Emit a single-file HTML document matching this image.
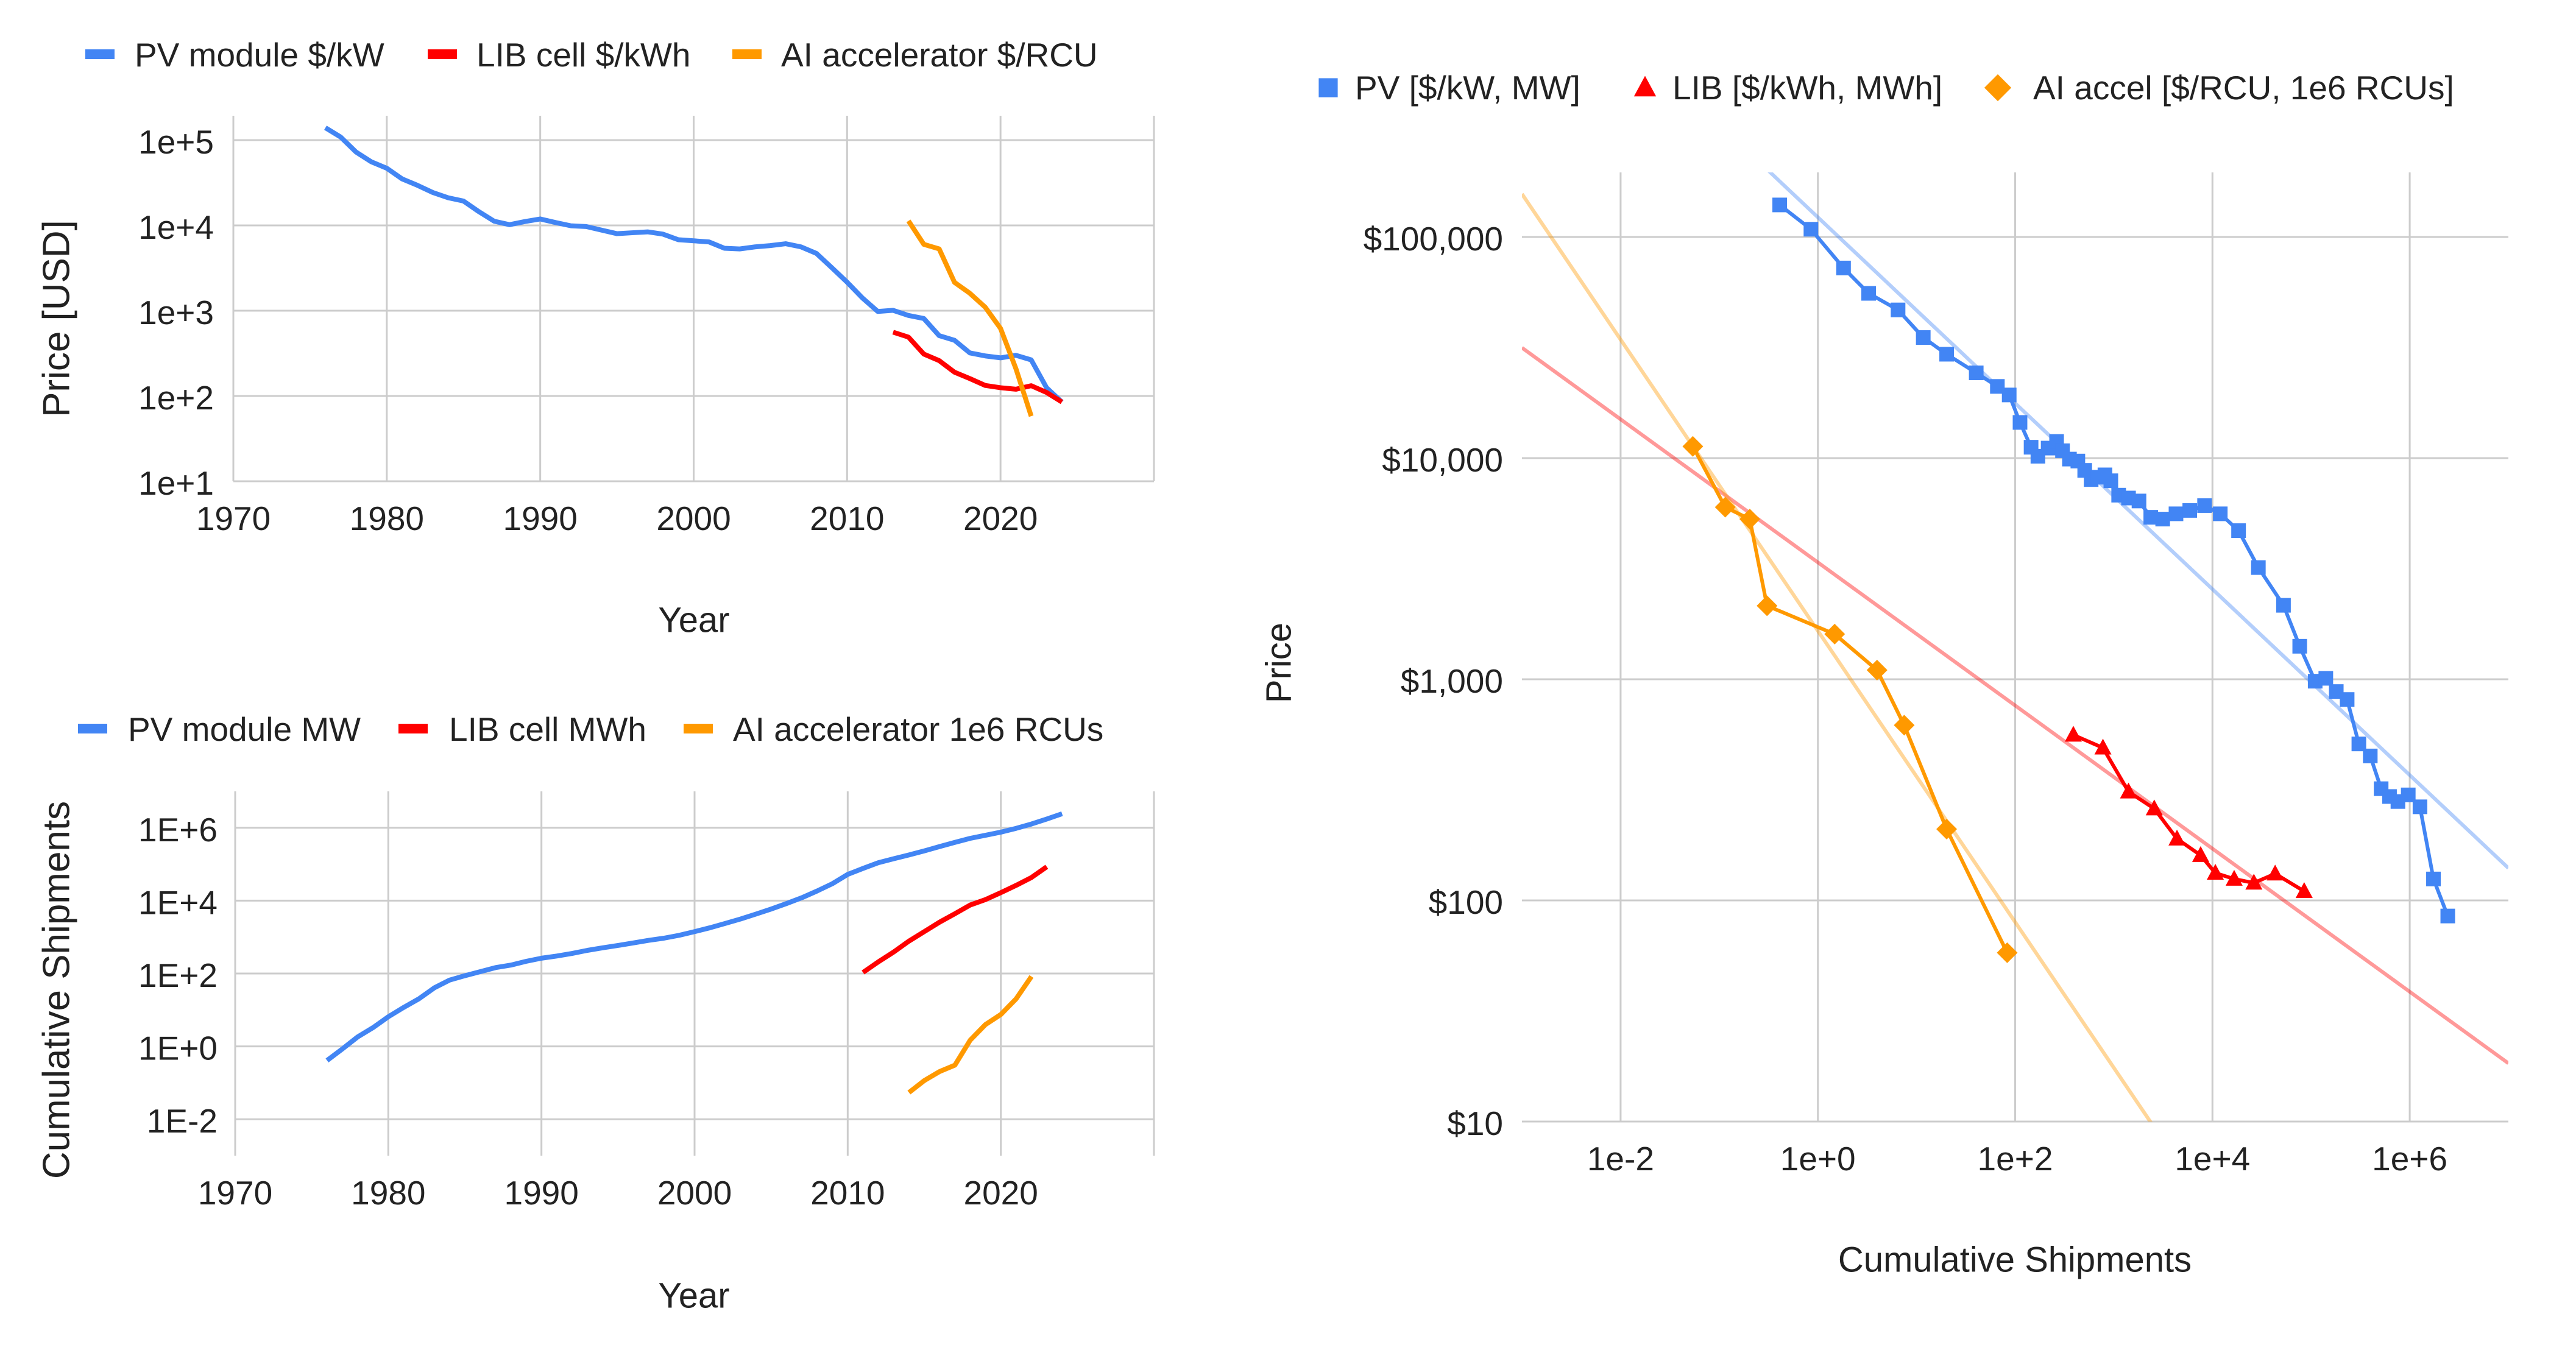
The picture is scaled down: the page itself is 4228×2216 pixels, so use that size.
<!DOCTYPE html>
<html><head><meta charset="utf-8"><style>
html,body{margin:0;padding:0;background:#fff;width:4228px;height:2216px;overflow:hidden;}
svg{display:block;font-family:"Liberation Sans",Arial,sans-serif;}
</style></head><body>
<svg id="s" width="4228" height="2216" viewBox="0 0 4228 2216" xmlns="http://www.w3.org/2000/svg"></svg>
<script>
// ---- data ----
const pvYears = [1976,1977,1978,1979,1980,1981,1982,1983,1984,1985,1986,1987,1988,1989,1990,1991,1992,1993,1994,1995,1996,1997,1998,1999,2000,2001,2002,2003,2004,2005,2006,2007,2008,2009,2010,2011,2012,2013,2014,2015,2016,2017,2018,2019,2020,2021,2022,2023,2024];
const pvPrice = [139600,108400,72400,55600,46800,35100,29500,24300,21100,19300,14500,11200,10200,11100,11900,10800,9900,9700,8800,8000,8200,8400,7900,6800,6600,6400,5400,5300,5600,5800,6100,5600,4700,3200,2160,1410,980,1010,880,810,510,450,320,295,280,300,265,125,85];
const pvCum = [0.41,0.85,1.82,3.27,6.5,11.7,20.2,40.3,66,87,112,145,170,216,263,302,355,432,507,589,692,813,933,1120,1410,1800,2370,3130,4270,5890,8320,12000,18400,29200,52500,76700,110000,141000,180000,232000,305000,398000,513000,624000,759000,966000,1270000,1740000,2430000];
const libPriceYears = [2013,2014,2015,2016,2017,2018,2019,2020,2021,2022,2023,2024];
const libPrice = [560,490,310,260,190,160,133,125,120,132,110,85];
const libCumYears = [2011,2012,2013,2014,2015,2016,2017,2018,2019,2020,2021,2022,2023];
const libCum = [107,209,389,776,1410,2570,4370,7590,10700,16600,26300,43200,85100];
const aiYears = [2014,2015,2016,2017,2018,2019,2020,2021,2022];
const aiPrice = [11300,6000,5300,2150,1600,1100,620,210,58];
const aiCum = [0.054,0.115,0.204,0.305,1.48,3.98,7.5,20.2,83];
const yearTicks = [1970,1980,1990,2000,2010,2020,2030];
const yearTickLabels = ["1970","1980","1990","2000","2010","2020",""];
const priceTickExp = [1,2,3,4,5];
const priceTickLabels = ["1e+1","1e+2","1e+3","1e+4","1e+5"];
const shipTickExp = [-2,0,2,4,6];
const shipTickLabels = ["1E-2","1E+0","1E+2","1E+4","1E+6"];
const rxTickExp = [-2,0,2,4,6];
const rxTickLabels = ["1e-2","1e+0","1e+2","1e+4","1e+6"];
const ryTickExp = [1,2,3,4,5];
const ryTickLabels = ["$10","$100","$1,000","$10,000","$100,000"];

const BLUE="#4285F4", RED="#FF0000", ORANGE="#FF9900", GRID="#cccccc", TXT="#222222";
const NS="http://www.w3.org/2000/svg";
const svg=document.getElementById('s');
function mk(tag,attrs,parent){const e=document.createElementNS(NS,tag);for(const k in attrs)e.setAttribute(k,attrs[k]);(parent||svg).appendChild(e);return e;}
function txt(x,y,s,size,anchor,parent,extra){const t=mk('text',Object.assign({x:x,y:y,'font-size':size,'text-anchor':anchor||'start',fill:TXT,'dominant-baseline':'central'},extra||{}),parent);t.textContent=s;return t;}
const L10=Math.log10;

// ---------- Chart 1: price vs year ----------
(function(){
 const g=mk('g',{});
 
 
 const X0=383,X1=1894,Y0=190,Y1=790;
 const xs=y=>X0+(y-1970)/60*(X1-X0);
 const ys=v=>Y1-(L10(v)-1)*140;
 yearTicks.forEach((t,i)=>{const l=mk('line',{x1:xs(t),x2:xs(t),y1:Y0,y2:Y1,stroke:GRID,'stroke-width':3},g);
  
  if(yearTickLabels[i]){const tl=txt(xs(t),851,yearTickLabels[i],55,'middle',g);}});
 priceTickExp.forEach((e,i)=>{const y=ys(Math.pow(10,e));const l=mk('line',{x1:X0,x2:X1,y1:y,y2:y,stroke:GRID,'stroke-width':3},g);
  
  const tl=txt(351,y+3,priceTickLabels[i],55,'end',g);});
 function line(xsArr,vals,color,name){const p=mk('polyline',{points:xsArr.map((x,i)=>xs(x)+','+ys(vals[i])).join(' '),fill:'none',stroke:color,'stroke-width':8,'stroke-linejoin':'round'},g);
  }
 line(pvYears,pvPrice,BLUE,'pv-price-line');
 line(libPriceYears,libPrice,RED,'lib-price-line');
 line(aiYears,aiPrice,ORANGE,'ai-price-line');
 const yt=txt(0,0,'Price [USD]',62,'middle',g,{transform:'translate(93,523) rotate(-90)'});
 
 const xt=txt(1139,1018,'Year',58,'middle',g);
 
 const leg=[[140,221,BLUE,'PV module $/kW'],[702,782,RED,'LIB cell $/kWh'],[1202,1282,ORANGE,'AI accelerator $/RCU']];
 leg.forEach(a=>{const r=mk('rect',{x:a[0],y:81,width:48,height:16,fill:a[2]},g);
  
  const t=txt(a[1],90,a[3],55,'start',g);});
})();

// ---------- Chart 2: shipments vs year ----------
(function(){
 const g=mk('g',{});
 
 
 const X0=386,X1=1894,Y0=1299,Y1=1897;
 const xs=y=>X0+(y-1970)/60*(X1-X0);
 const ys=v=>Y1-(L10(v)+3)*(Y1-Y0)/10;
 yearTicks.forEach((t,i)=>{const l=mk('line',{x1:xs(t),x2:xs(t),y1:Y0,y2:Y1,stroke:GRID,'stroke-width':3},g);
  
  if(yearTickLabels[i]){const tl=txt(xs(t),1958,yearTickLabels[i],55,'middle',g);}});
 shipTickExp.forEach((e,i)=>{const y=ys(Math.pow(10,e));const l=mk('line',{x1:X0,x2:X1,y1:y,y2:y,stroke:GRID,'stroke-width':3},g);
  
  const tl=txt(357,y+3,shipTickLabels[i],55,'end',g);});
 function line(xsArr,vals,color,name){const p=mk('polyline',{points:xsArr.map((x,i)=>xs(x)+','+ys(vals[i])).join(' '),fill:'none',stroke:color,'stroke-width':8,'stroke-linejoin':'round'},g);
  }
 line(pvYears,pvCum,BLUE,'pv-shipments-line');
 line(libCumYears,libCum,RED,'lib-shipments-line');
 line(aiYears,aiCum,ORANGE,'ai-shipments-line');
 const yt=txt(0,0,'Cumulative Shipments',62,'middle',g,{transform:'translate(93,1625) rotate(-90)'});
 
 const xt=txt(1139,2127,'Year',58,'middle',g);
 
 const leg=[[128,210,BLUE,'PV module MW'],[654,737,RED,'LIB cell MWh'],[1122,1203,ORANGE,'AI accelerator 1e6 RCUs']];
 leg.forEach(a=>{const r=mk('rect',{x:a[0],y:1188,width:48,height:16,fill:a[2]},g);
  
  const t=txt(a[1],1197,a[3],55,'start',g);});
})();

// ---------- Chart 3: price vs cumulative (log-log) ----------
(function(){
 const g=mk('g',{});
 
 
 const X0=2498,X1=4117,Y0=283,Y1=1841;
 const xs=v=>X0+(L10(v)+3)*(X1-X0)/10;
 const ys=v=>Y1-(L10(v)-1)*363;
 const clip=mk('clipPath',{id:'rc'},g);mk('rect',{x:X0,y:Y0,width:X1-X0,height:Y1-Y0},clip);
 rxTickExp.forEach((e,i)=>{const x=xs(Math.pow(10,e));const l=mk('line',{x1:x,x2:x,y1:Y0,y2:Y1,stroke:GRID,'stroke-width':3},g);
  
  const tl=txt(x,1902,rxTickLabels[i],55,'middle',g);});
 ryTickExp.forEach((e,i)=>{const y=ys(Math.pow(10,e));const l=mk('line',{x1:X0,x2:X1,y1:y,y2:y,stroke:GRID,'stroke-width':3},g);
  
  const tl=txt(2467,y+3,ryTickLabels[i],55,'end',g);});
 function trend(cx,py,color,name){
  const lx=cx.map(L10),ly=py.map(L10),n=lx.length;
  const mx=lx.reduce((a,b)=>a+b)/n,my=ly.reduce((a,b)=>a+b)/n;
  let sxy=0,sxx=0;for(let i=0;i<n;i++){sxy+=(lx[i]-mx)*(ly[i]-my);sxx+=(lx[i]-mx)**2;}
  const b=sxy/sxx,a=my-b*mx;
  const l=mk('line',{x1:xs(1e-3),y1:ys(Math.pow(10,a+b*-3)),x2:xs(1e7),y2:ys(Math.pow(10,a+b*7)),stroke:color,'stroke-width':6,'stroke-opacity':0.4,'clip-path':'url(#rc)'},g);
  }
 const libPX=[],libPY=[];
 libCumYears.forEach((yr,i)=>{const j=libPriceYears.indexOf(yr);if(j>=0){libPX.push(libCum[i]);libPY.push(libPrice[j]);}});
 trend(pvCum,pvPrice,BLUE,'pv-trendline');
 trend(libPX,libPY,RED,'lib-trendline');
 trend(aiCum,aiPrice,ORANGE,'ai-trendline');
 function marker(x,y,shape,color,parent,s){
  s=s||1;let m;
  if(shape==='sq') m=mk('rect',{x:x-12*s,y:y-12*s,width:24*s,height:24*s,fill:color},parent);
  else if(shape==='tri') m=mk('polygon',{points:`${x},${y-15*s} ${x+14*s},${y+11*s} ${x-14*s},${y+11*s}`,fill:color},parent);
  else m=mk('polygon',{points:`${x},${y-17*s} ${x+17*s},${y} ${x},${y+17*s} ${x-17*s},${y}`,fill:color},parent);
  return m;}
 function series(cx,py,color,shape,name){
  const sg=mk('g',{},g);
  
  const p=mk('polyline',{points:cx.map((c,i)=>xs(c)+','+ys(py[i])).join(' '),fill:'none',stroke:color,'stroke-width':6,'stroke-linejoin':'round'},sg);
  
  cx.forEach((c,i)=>{const m=marker(xs(c),ys(py[i]),shape,color,sg);
   });}
 series(pvCum,pvPrice,BLUE,'sq','pv-series');
 series(libPX,libPY,RED,'tri','lib-series');
 series(aiCum,aiPrice,ORANGE,'dia','ai-series');
 const yt=txt(0,0,'Price',58,'middle',g,{transform:'translate(2099,1088) rotate(-90)'});
 
 const xt=txt(3307,2068,'Cumulative Shipments',58,'middle',g);
 
 const leg=[[2180,2224,BLUE,'sq','PV [$/kW, MW]'],[2700,2745,RED,'tri','LIB [$/kWh, MWh]'],[3279,3337,ORANGE,'dia','AI accel [$/RCU, 1e6 RCUs]']];
 leg.forEach(a=>{const m=marker(a[0],144,a[3],a[2],g,1.3);
  
  const t=txt(a[1],144,a[4],55,'start',g);});
})();
</script>
</body></html>
